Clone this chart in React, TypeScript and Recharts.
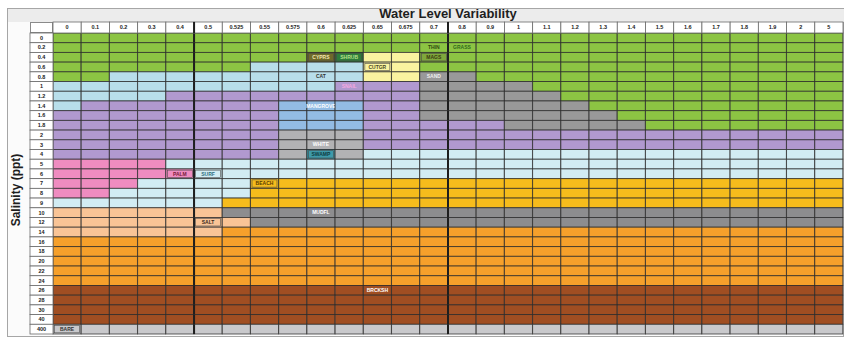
import React from "react";
import { Bar, BarChart, XAxis, YAxis } from "recharts";

// water level variability (columns) and salinity in ppt (rows)
const COLS = [
  "0", "0.1", "0.2", "0.3", "0.4", "0.5", "0.525", "0.55", "0.575", "0.6",
  "0.625", "0.65", "0.675", "0.7", "0.8", "0.9", "1", "1.1", "1.2", "1.3",
  "1.4", "1.5", "1.6", "1.7", "1.8", "1.9", "2", "5",
];
const ROWS = [
  "0", "0.2", "0.4", "0.6", "0.8", "1", "1.2", "1.4", "1.6", "1.8", "2",
  "3", "4", "5", "6", "7", "8", "9", "10", "12", "14", "16", "18", "20",
  "22", "24", "26", "28", "30", "40", "400",
];

// habitat zone per row, run-length coded left to right
const ZONES = [
  "G28",
  "G28",
  "G9 V1 H1 E2 Q1 G14",
  "G7 L4 E2 G15",
  "G2 L9 E2 S2 G13",
  "L10 P3 S4 G11",
  "L4 P9 S5 G10",
  "L1 P7 M3 P2 S6 G9",
  "P8 M3 P2 S7 G8",
  "P8 M3 P5 S5 G7",
  "P8 W3 P17",
  "P8 W3 P17",
  "P8 W1 T1 W1 l17",
  "K4 l24",
  "K5 l23",
  "K3 l4 Y21",
  "K2 l5 Y21",
  "l6 Y22",
  "C6 D22",
  "C7 D21",
  "C6 O22",
  "O28",
  "O28",
  "O28",
  "O28",
  "O28",
  "B28",
  "B28",
  "B28",
  "B28",
  "N28",
];

const ZONE_COLORS: Record<string, string> = {
  G: "#8cc443", // fresh marsh green
  L: "#b8deea", // light blue
  l: "#d2ecf3", // pale blue
  P: "#b199cf", // purple
  K: "#ef8cc0", // pink
  C: "#f9c496", // peach
  O: "#f6a02b", // orange
  Y: "#f6bc1c", // gold
  D: "#8d8d8f", // dark grey
  S: "#999999", // grey
  M: "#93bce4", // mid blue
  W: "#b2b2b4", // light grey
  B: "#a04e22", // brown
  N: "#c9c9cc", // bare
  E: "#faf3a0", // yellow
  V: "#6f6a2a", // olive
  H: "#2e7d3a", // dark green
  Q: "#7fa83c", // olive green
  T: "#3e9aaa", // teal
};

const LABELS = [
  { row: 1, col: 13, text: "THIN", color: "#2e4a10" },
  { row: 1, col: 14, text: "GRASS", color: "#2f6b1a" },
  { row: 2, col: 9, text: "CYPRS", color: "#f3e7b0", box: true },
  { row: 2, col: 10, text: "SHRUB", color: "#b5e08a", box: true },
  { row: 2, col: 13, text: "MAGS", color: "#3a3a10", box: true },
  { row: 3, col: 11, text: "CUTGR", color: "#4a4a20", box: true },
  { row: 4, col: 9, text: "CAT", color: "#333333" },
  { row: 4, col: 13, text: "SAND", color: "#eeeeee" },
  { row: 5, col: 10, text: "SNAIL", color: "#f4a8e0" },
  { row: 7, col: 9, text: "MANGROVE", color: "#ffffff" },
  { row: 11, col: 9, text: "WHITE", color: "#ffffff" },
  { row: 12, col: 9, text: "SWAMP", color: "#0d3b40", box: true },
  { row: 14, col: 4, text: "PALM", color: "#7a1a3a", box: true },
  { row: 14, col: 5, text: "SURF", color: "#2e6f80", box: true },
  { row: 15, col: 7, text: "BEACH", color: "#5a3a00", box: true },
  { row: 18, col: 9, text: "MUDFL", color: "#ffffff" },
  { row: 19, col: 5, text: "SALT", color: "#3a2a1a", box: true },
  { row: 26, col: 11, text: "BRCKSH", color: "#ffffff" },
  { row: 30, col: 0, text: "BARE", color: "#333333", box: true },
];

const THICK_COLS = [5, 14];

const expand = (spec: string) =>
  spec.split(" ").flatMap((run) => Array(Number(run.slice(1))).fill(run[0]));
const GRID = ZONES.map(expand);

const data = COLS.map((col) => {
  const d: Record<string, string | number> = { col };
  ROWS.forEach((_, ri) => (d[`r${ri}`] = 1));
  return d;
});

const W = 844;
const H = 337;
const M = { top: 22, right: 1, bottom: 3, left: 30 };
const Y_W = 23;
const HEAD_H = 11;
const COL_W = (W - M.left - Y_W - M.right) / COLS.length;
const ROW_H = (H - M.top - HEAD_H - M.bottom) / ROWS.length;
const LINE = "rgba(40,40,40,0.8)";

const makeCell = (ri: number) => (props: any) => {
  const { x, y, width, height } = props;
  const ci = props.index ?? COLS.indexOf(props.payload?.col);
  const top = Math.min(y, y + height);
  const h = Math.abs(height);
  const lab = LABELS.find((l) => l.row === ri && l.col === ci);
  return (
    <g>
      <rect x={x} y={top} width={width} height={h} fill={ZONE_COLORS[GRID[ri][ci]]} stroke={LINE} strokeWidth={0.9} />
      {THICK_COLS.includes(ci) && <line x1={x} x2={x} y1={top} y2={top + h} stroke="#1e1e1e" strokeWidth={2} />}
      {lab && lab.box && (
        <rect x={x + 1.5} y={top + 1.2} width={width - 3} height={h - 2.4} fill="none" stroke="#4a4a4a" strokeWidth={0.6} />
      )}
      {lab && (
        <text x={x + width / 2} y={top + h / 2} dy="0.35em" textAnchor="middle" fontSize={5} fontWeight="bold" fill={lab.color}>
          {lab.text}
        </text>
      )}
    </g>
  );
};

const XTick = (props: any) => {
  const { x, payload, index } = props;
  return (
    <g>
      <rect x={x - COL_W / 2} y={M.top} width={COL_W} height={HEAD_H} fill="#ffffff" stroke="#6a6a6a" strokeWidth={0.8} />
      {THICK_COLS.includes(index) && (
        <line x1={x - COL_W / 2} x2={x - COL_W / 2} y1={M.top} y2={M.top + HEAD_H} stroke="#1e1e1e" strokeWidth={2} />
      )}
      <text x={x} y={M.top + HEAD_H / 2} dy="0.35em" textAnchor="middle" fontSize={5.5} fontWeight="bold" fill="#222">
        {payload.value}
      </text>
    </g>
  );
};

const YTick = (props: any) => {
  const { x, y, payload } = props;
  return (
    <g>
      <rect x={x - Y_W} y={y - ROW_H / 2} width={Y_W} height={ROW_H} fill="#ffffff" stroke="#6a6a6a" strokeWidth={0.8} />
      <text x={x - Y_W / 2} y={y} dy="0.35em" textAnchor="middle" fontSize={5.5} fontWeight="bold" fill="#222">
        {ROWS[Math.floor(payload.value)]}
      </text>
    </g>
  );
};

export default function App() {
  return (
    <div
      style={{
        position: "absolute",
        left: 0,
        top: 0,
        width: W,
        height: H,
        background: "#ffffff",
        overflow: "hidden",
        fontFamily: "'Liberation Sans', Arial, sans-serif",
      }}
    >
      <div style={{ position: "absolute", left: 7, top: 8, width: W - 7, height: H - 8, border: "1px solid #a6a6a6", boxSizing: "border-box", background: "#fbfbfb" }} />
      <div style={{ position: "absolute", left: 8, top: 9, width: W - 8, height: 13, background: "#ececec" }} />
      <div style={{ position: "absolute", left: M.left, top: M.top, width: Y_W, height: HEAD_H, background: "#fff", border: "1px solid #8a8a8a", boxSizing: "border-box" }} />
      <div style={{ position: "absolute", left: 348, top: 6, width: 200, textAlign: "center", fontSize: 13, lineHeight: "15px", fontWeight: "bold", color: "#1e1e1e" }}>
        Water Level Variability
      </div>
      <div style={{ position: "absolute", left: 16 - 50, top: 190 - 8, width: 100, height: 16, lineHeight: "16px", textAlign: "center", transform: "rotate(-90deg)", fontSize: 12, fontWeight: "bold", color: "#1e1e1e" }}>
        Salinity (ppt)
      </div>
      <div style={{ position: "absolute", left: 0, top: 0 }}>
        <BarChart width={W} height={H} data={data} margin={M} barCategoryGap={0} barGap={0}>
          <XAxis dataKey="col" orientation="top" height={HEAD_H} interval={0} tickLine={false} axisLine={false} tick={<XTick />} />
          <YAxis
            type="number"
            domain={[0, ROWS.length]}
            reversed
            ticks={ROWS.map((_, i) => i + 0.5)}
            interval={0}
            width={Y_W}
            tickLine={false}
            axisLine={false}
            tickSize={0}
            tickMargin={0}
            tick={<YTick />}
          />
          {ROWS.map((_, ri) => (
            <Bar key={ri} dataKey={`r${ri}`} stackId="grid" isAnimationActive={false} shape={makeCell(ri)} />
          ))}
        </BarChart>
      </div>
    </div>
  );
}
